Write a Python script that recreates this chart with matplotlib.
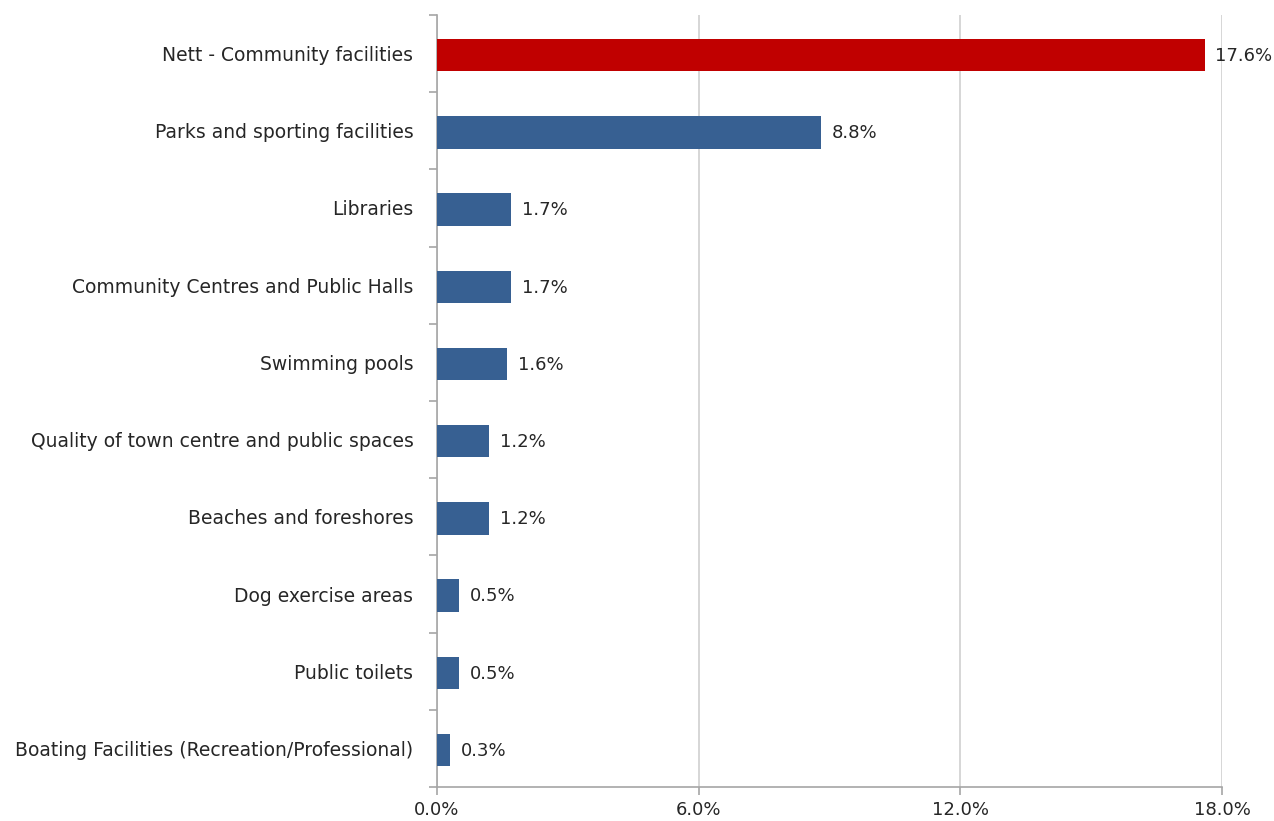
import numpy as np
import matplotlib
matplotlib.use('Agg')
import matplotlib.pyplot as plt
from matplotlib.ticker import FixedLocator

categories = ['Nett - Community facilities', 'Parks and sporting facilities', 'Libraries',
              'Community Centres and Public Halls', 'Swimming pools',
              'Quality of town centre and public spaces', 'Beaches and foreshores',
              'Dog exercise areas', 'Public toilets',
              'Boating Facilities (Recreation/Professional)']
values = [17.6, 8.8, 1.7, 1.7, 1.6, 1.2, 1.2, 0.5, 0.5, 0.3]
bar_colors = ['#C00000'] + ['#376092'] * 9
xticks = [0, 6, 12, 18]

plt.rcParams['font.family'] = ['DejaVu Sans']
fig = plt.figure(figsize=(12.74, 8.21), dpi=100)
ax = fig.add_axes([437/1274, 1 - 787/821, (1222 - 437)/1274, (787 - 15)/821])

y = np.arange(len(categories))
ax.barh(y + 0.02, values, height=0.42, color=bar_colors, zorder=3)
for yi, v in zip(y, values):
    ax.text(v + 0.25, yi + 0.03, '%.1f%%' % v, va='center', ha='left', fontsize=13, color='#262626')

ax.set_ylim(len(categories) - 0.5, -0.5)
ax.set_xlim(0, 18)
ax.set_xticks(xticks)
ax.set_xticklabels(['%.1f%%' % t for t in xticks], fontsize=13, color='#262626')
ax.set_yticks(y)
ax.set_yticklabels(categories, fontsize=13.5, color='#262626')
ax.yaxis.set_minor_locator(FixedLocator(np.arange(-0.5, len(categories), 1)))
ax.tick_params(axis='y', which='major', length=0, pad=17)
ax.tick_params(axis='y', which='minor', length=6, color='#A6A6A6', width=1.2)
ax.tick_params(axis='x', length=6, color='#A6A6A6', width=1.2, pad=4)
ax.grid(axis='x', color='#D0D0D0', linewidth=1.2, zorder=0)

for s in ['top', 'right']:
    ax.spines[s].set_visible(False)
for s in ['left', 'bottom']:
    ax.spines[s].set_color('#A6A6A6')
    ax.spines[s].set_linewidth(1.2)

fig.savefig('out.png', dpi=100)
